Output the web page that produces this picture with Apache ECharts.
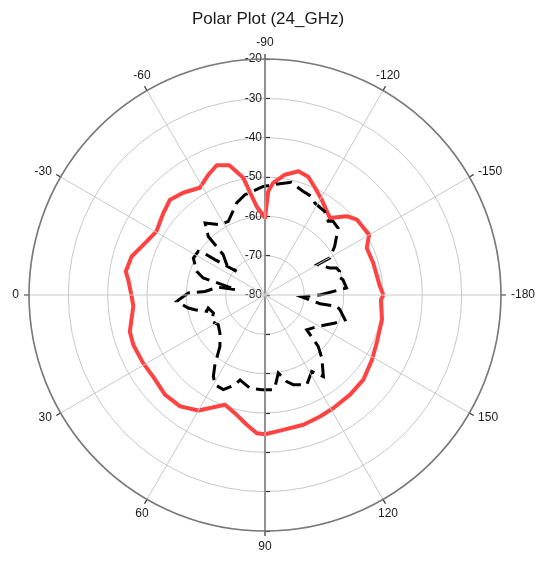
<!DOCTYPE html>
<html>
<head>
<meta charset="utf-8">
<title>Polar Plot (24_GHz)</title>
<script src="https://cdn.jsdelivr.net/npm/echarts@6/dist/echarts.min.js"></script>
<style>
  html, body { margin: 0; padding: 0; background: #ffffff; }
  #chart { width: 542px; height: 562px; }
</style>
</head>
<body>
<div id="chart"></div>
<script>
// Angle ticks (degrees) and radial ticks (dB)
const angleTicks = [-180, -150, -120, -90, -60, -30, 0, 30, 60, 90, 120, 150];
const radiusTicks = [-80, -70, -60, -50, -40, -30, -20];

// Solid red trace: angle (deg) and level (dB)
const redAngles = [-180, -175.7, -163.5, -155.2, -149.9, -145.7, -140.6, -136.1, -130.2, -120.7,
  -115.0, -110.1, -105.1, -99.4, -94.2, -91.8, -90.0, -84.6, -79.4, -74.6,
  -69.6, -64.8, -58.7, -51.3, -45.1, -38.9, -30.4, -24.4, -16.1, -9.6,
  -6.4, 0.6, 4.9, 15.1, 20.7, 29.2, 36.1, 44.9, 52.7, 60.0,
  70.0, 76.7, 82.0, 86.6, 90.0, 97.7, 106.5, 114.4, 121.2, 130.5,
  139.3, 148.8, 156.7, 168.1, 177.7, 180];
const redLevels = [-49.9, -50.7, -51.3, -51.5, -49.4, -49.7, -49.8, -51.1, -54.4, -51.8,
  -49.9, -48.0, -47.4, -49.0, -51.4, -53.6, -60.4, -57.4, -49.6, -45.8,
  -44.8, -46.2, -48.1, -46.7, -45.8, -46.8, -48.0, -47.0, -44.7, -44.1,
  -45.0, -46.1, -46.4, -44.4, -44.2, -44.5, -44.8, -44.1, -44.4, -46.1,
  -50.3, -48.7, -46.7, -44.8, -44.6, -45.4, -45.6, -46.1, -46.4, -46.7,
  -47.0, -48.2, -49.1, -49.6, -50.5, -49.9];

// Dashed black trace: angle (deg) and level (dB)
const blackAngles = [-179.7, -175.1, -168.9, -165.7, -162.5, -159.3, -157.3, -149.9, -150.2, -145.1,
  -137.5, -132.7, -130.6, -125.5, -118.4, -115.2, -110.1, -103.1, -94.1, -89.1,
  -78.7, -72.9, -63.5, -57.4, -50.2, -45.9, -45.2, -44.0, -38.4, -39.8,
  -35.2, -34.6, -33.2, -27.3, -19.1, -15.4, -14.7, -10.5, -9.4, -3.4,
  -1.5, 4.1, 9.6, 11.9, 15.7, 12.9, 19.2, 26.3, 32.5, 40.2,
  48.8, 54.3, 57.6, 60.9, 66.2, 71.5, 73.6, 80.8, 88.0, 95.0,
  96.3, 99.7, 104.1, 107.5, 114.9, 121.4, 125.6, 132.0, 136.0, 140.2,
  149.5, 158.2, 162.8, 168.9, 171.0, 171.0, 176.9, 180.3];
const blackLevels = [-65.8, -59.2, -59.8, -60.8, -60.1, -60.6, -62.2, -64.6, -61.0, -58.4,
  -54.8, -54.5, -55.3, -53.9, -53.4, -52.3, -51.9, -50.6, -51.9, -52.4,
  -54.0, -55.5, -59.1, -58.8, -56.2, -59.3, -62.0, -65.2, -67.6, -70.6,
  -64.4, -62.0, -59.7, -59.5, -61.6, -63.7, -66.4, -72.6, -67.9, -64.7,
  -60.5, -57.5, -60.2, -61.8, -64.6, -65.2, -66.1, -64.9, -65.9, -65.0,
  -62.6, -58.2, -55.5, -53.9, -53.7, -55.9, -57.5, -56.0, -55.9, -55.8,
  -56.6, -59.9, -57.3, -56.1, -54.8, -57.2, -54.5, -58.4, -61.2, -66.2,
  -64.3, -60.8, -58.7, -60.6, -61.5, -65.8, -70.6, -65.8];

const FONT = '"Liberation Sans", Arial, Helvetica, sans-serif';
const R_MIN = radiusTicks[0];
const R_MAX = radiusTicks[radiusTicks.length - 1];
const R_STEP = radiusTicks[1] - radiusTicks[0];
const CENTER = [265, 295];
const RADIUS = 236;
const TICK_LEN = 5;

function toPolar(angles, levels) {
  return angles.map((a, i) => [levels[i], a]);
}

// Radius scale used only to draw parts of the vertical axis (line, ticks or labels)
function radialScale(index, parts) {
  return {
    polarIndex: index,
    type: 'value',
    min: R_MIN,
    max: R_MAX,
    interval: R_STEP,
    axisLine: { show: !!parts.line, lineStyle: { color: '#5c5c5c', width: 2 } },
    axisTick: { show: !!parts.ticks, length: TICK_LEN, lineStyle: { color: '#333', width: 1.2 } },
    axisLabel: {
      show: !!parts.labels,
      color: '#1a1a1a',
      fontFamily: FONT,
      fontSize: 12,
      margin: 3,
      padding: [0, 0, 7, 0]
    },
    splitLine: { show: false }
  };
}

const option = {
  backgroundColor: '#ffffff',
  animation: false,
  title: {
    text: 'Polar Plot (24_GHz)',
    left: 187,
    top: 6,
    textStyle: { fontFamily: FONT, fontSize: 17, fontWeight: 'normal', color: '#1a1a1a' }
  },
  polar: [
    { center: CENTER, radius: RADIUS },
    { center: CENTER, radius: RADIUS },
    { center: CENTER, radius: RADIUS },
    // shifted by one tick length so the upper ticks sit on the right of the axis line
    { center: [CENTER[0] + TICK_LEN, CENTER[1]], radius: RADIUS }
  ],
  angleAxis: [
    {
      polarIndex: 0,
      type: 'value',
      min: angleTicks[0],
      max: angleTicks[0] + 360,
      interval: angleTicks[1] - angleTicks[0],
      startAngle: 0,
      clockwise: false,
      z: 5,
      axisLine: { show: true, lineStyle: { color: '#7a7a7a', width: 1.6 } },
      axisTick: { show: true, length: 5, lineStyle: { color: '#333', width: 1.2 } },
      axisLabel: { show: false },
      splitLine: { show: true, lineStyle: { color: '#c8c8c8', width: 1 } }
    },
    { polarIndex: 1, type: 'value', min: 0, max: 360, startAngle: 90, show: false },
    { polarIndex: 2, type: 'value', min: 0, max: 360, startAngle: 270, show: false },
    { polarIndex: 3, type: 'value', min: 0, max: 360, startAngle: 90, show: false }
  ],
  radiusAxis: [
    {
      polarIndex: 0,
      type: 'value',
      min: R_MIN,
      max: R_MAX,
      interval: R_STEP,
      axisLine: { show: false },
      axisTick: { show: false },
      axisLabel: { show: false },
      splitLine: { show: true, lineStyle: { color: '#c8c8c8', width: 1 } }
    },
    radialScale(1, { line: true, labels: true }),
    radialScale(2, { line: true, ticks: true }),
    radialScale(3, { ticks: true })
  ],
  series: [
    {
      name: 'solid',
      type: 'line',
      coordinateSystem: 'polar',
      polarIndex: 0,
      symbol: 'none',
      z: 3,
      lineStyle: { color: '#ff4242', width: 4, join: 'round' },
      data: toPolar(redAngles, redLevels)
    },
    {
      name: 'dashed',
      type: 'line',
      coordinateSystem: 'polar',
      polarIndex: 0,
      symbol: 'none',
      z: 4,
      lineStyle: { color: '#000000', width: 3, type: [16, 7], cap: 'butt', join: 'miter' },
      data: toPolar(blackAngles, blackLevels)
    }
  ]
};

const chart = echarts.init(document.getElementById('chart'), null, { renderer: 'canvas' });
chart.setOption(option);

// Angle tick labels placed just outside the rim, positioned through the polar scale
const c = chart.convertToPixel({ polarIndex: 0 }, [R_MIN, 0]);
const angleLabels = angleTicks.map(function (a) {
  const p = chart.convertToPixel({ polarIndex: 0 }, [R_MAX, a]);
  const dx = p[0] - c[0];
  const dy = p[1] - c[1];
  const len = Math.sqrt(dx * dx + dy * dy);
  const ux = dx / len;
  const uy = dy / len;
  const gap = 10;
  let align, vAlign;
  if (Math.abs(ux) > Math.abs(uy)) {
    align = ux > 0 ? 'left' : 'right';
    vAlign = 'middle';
  } else {
    align = 'center';
    vAlign = uy > 0 ? 'top' : 'bottom';
  }
  return {
    type: 'text',
    x: p[0] + ux * gap,
    y: p[1] + uy * gap,
    z: 10,
    style: {
      text: String(a),
      align: align,
      verticalAlign: vAlign,
      fill: '#1a1a1a',
      font: '12px ' + FONT
    }
  };
});
chart.setOption({ graphic: angleLabels });
</script>
</body>
</html>
